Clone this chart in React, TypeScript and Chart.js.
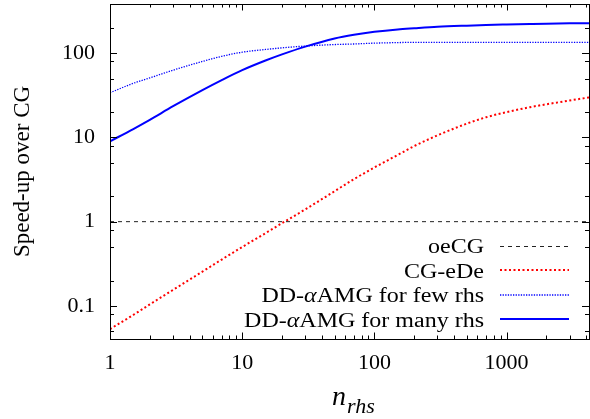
import React, { useEffect, useRef } from "react";
import { Chart, registerables } from "chart.js";

Chart.register(...registerables);

// ---- data ----
const nValues = [1, 1.5, 2, 3, 5, 7, 10, 15, 20, 30, 50, 70, 100, 150, 200, 300, 500, 700, 1000, 1500, 2000, 3000, 4200];
const cgEDe = [0.053, 0.078, 0.104, 0.155, 0.255, 0.355, 0.5, 0.73, 0.96, 1.4, 2.3, 3.2, 4.4, 6.2, 7.9, 10.6, 14.6, 17.4, 20.0, 22.9, 24.8, 27.5, 29.9];
const ddFew = [34, 44, 51, 63, 80, 92, 103, 111, 116, 122, 127, 129, 132, 134, 135, 135, 135, 135, 135, 135, 135, 135, 135];
const ddMany = [9.0, 12.6, 16.2, 23.5, 36.5, 48, 63, 82, 97, 120, 150, 166, 180, 192, 198, 206, 213, 217, 220, 223, 225, 227, 228];
const oeCGn = [1, 4200];
const oeCG = [1, 1];

const seriesNames = ["oeCG", "CG-eDe", "DD-\u03b1AMG for few rhs", "DD-\u03b1AMG for many rhs"];

const xMajorTicks = [1, 10, 100, 1000];
const xMajorLabels = ["1", "10", "100", "1000"];
const yMajorTicks = [0.1, 1, 10, 100];
const yMajorLabels = ["0.1", "1", "10", "100"];
const yMinorMultipliers = [2, 5, 8];

const X_MIN = 1;
const X_MAX = 4200;
const Y_MIN = 0.0404;
const Y_MAX = 385;

const FONT = '"Liberation Serif"';
const TEXT_STRETCH = 1.2;

function xMinorTicks(): number[] {
  const out: number[] = [];
  for (const d of xMajorTicks) {
    for (let k = 2; k <= 9; k++) {
      const v = k * d;
      if (v <= X_MAX) out.push(v);
    }
  }
  return out;
}

function yMinorTicks(): number[] {
  const out: number[] = [];
  for (const d of [0.01, 0.1, 1, 10, 100]) {
    for (const k of yMinorMultipliers) {
      const v = k * d;
      if (v >= Y_MIN && v <= Y_MAX) out.push(v);
    }
  }
  return out;
}

const styles = [
  { color: "#222222", width: 1, dash: [4, 4] },
  { color: "#ff0000", width: 2, dash: [2, 2.5] },
  { color: "#0000ff", width: 1.3, dash: [1.3, 1.3] },
  { color: "#0000ff", width: 2, dash: [] as number[] },
];

const framePlugin = {
  id: "gnuplotFrame",
  afterDraw(chart: any) {
    const ctx: CanvasRenderingContext2D = chart.ctx;
    const { left, right, top, bottom } = chart.chartArea;
    const xs = chart.scales.x;
    const ys = chart.scales.y;
    ctx.save();
    ctx.strokeStyle = "#000";
    ctx.lineWidth = 1;
    ctx.strokeRect(Math.round(left) + 0.5, Math.round(top) + 0.5, Math.round(right) - Math.round(left), Math.round(bottom) - Math.round(top));
    const drawX = (v: number, len: number) => {
      const px = Math.round(xs.getPixelForValue(v)) + 0.5;
      ctx.beginPath();
      ctx.moveTo(px, bottom);
      ctx.lineTo(px, bottom - len);
      ctx.moveTo(px, top);
      ctx.lineTo(px, top + len);
      ctx.stroke();
    };
    xMajorTicks.forEach((v) => drawX(v, 6.5));
    xMinorTicks().forEach((v) => drawX(v, 3.5));
    const drawY = (v: number, len: number) => {
      const py = Math.round(ys.getPixelForValue(v)) + 0.5;
      ctx.beginPath();
      ctx.moveTo(left, py);
      ctx.lineTo(left + len, py);
      ctx.moveTo(right, py);
      ctx.lineTo(right - len, py);
      ctx.stroke();
    };
    yMajorTicks.forEach((v) => drawY(v, 7));
    yMinorTicks().forEach((v) => drawY(v, 4));

    // legend (gnuplot style: right-aligned text, sample on the right)
    const textRight = 484;
    const sampleL = 500;
    const sampleR = 569;
    const baselines = [253, 277.5, 302, 326.5];
    seriesNames.forEach((name, i) => {
      const by = baselines[i];
      ctx.save();
      ctx.translate(textRight, by);
      ctx.scale(TEXT_STRETCH, 1);
      ctx.fillStyle = "#000";
      ctx.textBaseline = "alphabetic";
      const normal = `20px ${FONT}`;
      const italic = `italic 20px ${FONT}`;
      const idx = name.indexOf("\u03b1");
      if (idx >= 0) {
        const a = name.slice(0, idx);
        const b = "\u03b1";
        const c = name.slice(idx + 1);
        ctx.font = normal;
        const wa = ctx.measureText(a).width;
        const wc = ctx.measureText(c).width;
        ctx.font = italic;
        const wb = ctx.measureText(b).width;
        const x0 = -(wa + wb + wc);
        ctx.textAlign = "left";
        ctx.font = normal;
        ctx.fillText(a, x0, 0);
        ctx.font = italic;
        ctx.fillText(b, x0 + wa, 0);
        ctx.font = normal;
        ctx.fillText(c, x0 + wa + wb, 0);
      } else {
        ctx.font = normal;
        ctx.textAlign = "right";
        ctx.fillText(name, 0, 0);
      }
      ctx.restore();
      const st = styles[i];
      const sy = Math.round(by - 7.5) + (st.width % 2 === 1 ? 0.5 : 0);
      ctx.strokeStyle = st.color;
      ctx.lineWidth = st.width;
      ctx.setLineDash(st.dash);
      ctx.beginPath();
      ctx.moveTo(sampleL, sy);
      ctx.lineTo(sampleR, sy);
      ctx.stroke();
      ctx.setLineDash([]);
    });

    // x axis title: n_rhs
    ctx.fillStyle = "#000";
    ctx.textAlign = "left";
    ctx.textBaseline = "alphabetic";
    ctx.font = `italic 28px ${FONT}`;
    const nx = 332;
    ctx.fillText("n", nx, 405);
    const wn = ctx.measureText("n").width;
    ctx.font = `italic 22px ${FONT}`;
    ctx.fillText("rhs", nx + wn + 1, 413);
    ctx.restore();
  },
};

export default function App() {
  const ref = useRef<HTMLCanvasElement>(null);
  useEffect(() => {
    const canvas = ref.current;
    if (!canvas) return;
    const mk = (xs: number[], ys: number[]) => xs.map((x, i) => ({ x, y: ys[i] }));
    const seriesData = [mk(oeCGn, oeCG), mk(nValues, cgEDe), mk(nValues, ddFew), mk(nValues, ddMany)];
    const chart = new Chart(canvas, {
      type: "line",
      data: {
        datasets: seriesData.map((d, i) => ({
          label: seriesNames[i],
          data: d,
          borderColor: styles[i].color,
          borderWidth: styles[i].width,
          borderDash: styles[i].dash,
          pointRadius: 0,
          fill: false,
          cubicInterpolationMode: "monotone" as const,
        })),
      },
      options: {
        responsive: false,
        animation: false,
        devicePixelRatio: 1,
        layout: { padding: { top: 4, right: 1, left: 0, bottom: 0 } },
        plugins: { legend: { display: false }, tooltip: { enabled: false } },
        scales: {
          x: {
            type: "logarithmic",
            position: "bottom",
            min: X_MIN,
            max: X_MAX,
            afterBuildTicks: (s: any) => {
              s.ticks = xMajorTicks.map((v) => ({ value: v }));
            },
            afterFit: (s: any) => {
              s.height = 80;
              s.paddingLeft = 0;
              s.paddingRight = 0;
            },
            grid: { display: false, drawTicks: false },
            border: { display: false },
            ticks: {
              autoSkip: false,
              maxRotation: 0,
              padding: 11,
              color: "#000",
              font: { family: FONT, size: 22 },
              callback: (v: any) => {
                const i = xMajorTicks.indexOf(Number(v));
                return i >= 0 ? xMajorLabels[i] : "";
              },
            },
          },
          y: {
            type: "logarithmic",
            position: "left",
            min: Y_MIN,
            max: Y_MAX,
            afterBuildTicks: (s: any) => {
              s.ticks = yMajorTicks.map((v) => ({ value: v }));
            },
            afterFit: (s: any) => {
              s.width = 110;
              s.paddingTop = 0;
              s.paddingBottom = 0;
            },
            grid: { display: false, drawTicks: false },
            border: { display: false },
            title: {
              display: true,
              text: "Speed-up over CG",
              color: "#000",
              font: { family: FONT, size: 23 },
              padding: { top: 9, bottom: 0 },
            },
            ticks: {
              autoSkip: false,
              padding: 15,
              color: "#000",
              font: { family: FONT, size: 22 },
              callback: (v: any) => {
                const i = yMajorTicks.findIndex((t) => Math.abs(t - Number(v)) < 1e-9 * Math.max(1, t));
                return i >= 0 ? yMajorLabels[i] : "";
              },
            },
          },
        },
      },
      plugins: [framePlugin],
    });
    return () => chart.destroy();
  }, []);
  return (
    <div style={{ position: "absolute", left: 0, top: 0, width: 590, height: 419, background: "#fff" }}>
      <canvas ref={ref} width={590} height={419} style={{ display: "block", width: 590, height: 419 }} />
    </div>
  );
}
